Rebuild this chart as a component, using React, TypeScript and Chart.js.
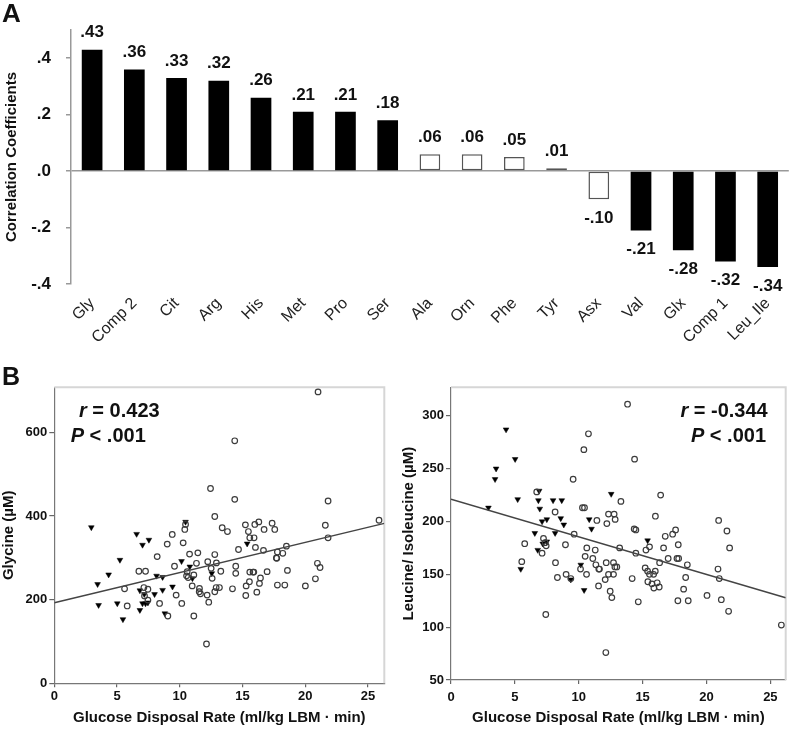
import React, { useEffect, useRef } from "react";
import { Chart, registerables } from "chart.js";

Chart.register(...registerables);

const FONT = "'Liberation Sans', Arial, Helvetica, sans-serif";

// ---------- Panel A: correlation coefficients ----------
const aminoLabels = ["Gly", "Comp 2", "Cit", "Arg", "His", "Met", "Pro", "Ser", "Ala", "Orn", "Phe", "Tyr", "Asx", "Val", "Glx", "Comp 1", "Leu_Ile"];
const correlationValues = [0.43, 0.36, 0.33, 0.32, 0.26, 0.21, 0.21, 0.18, 0.06, 0.06, 0.05, 0.01, -0.10, -0.21, -0.28, -0.32, -0.34];
const correlationText = [".43", ".36", ".33", ".32", ".26", ".21", ".21", ".18", ".06", ".06", ".05", ".01", "-.10", "-.21", "-.28", "-.32", "-.34"];
const significantFlags = [true, true, true, true, true, true, true, true, false, false, false, false, false, true, true, true, true];
const corrTicks = [-0.4, -0.2, 0, 0.2, 0.4];
const corrTickText = ["-.4", "-.2", ".0", ".2", ".4"];

// ---------- Panel B left: glycine ----------
const glycineCircles: [number, number][] = [
  [21.02, 697], [14.38, 580], [12.45, 466], [14.38, 440], [21.82, 436], [25.88, 390], [12.13, 94],
  [12.79, 399], [13.38, 372], [10.46, 380], [10.4, 368], [9.4, 356], [9.0, 333], [10.27, 336],
  [8.2, 303], [10.78, 309], [11.44, 312], [12.79, 308], [6.74, 268], [7.27, 268], [9.58, 280],
  [11.33, 287], [12.23, 291], [12.92, 288], [13.27, 268], [10.59, 267], [10.54, 257], [10.67, 253],
  [11.12, 259], [12.5, 275], [12.58, 251], [5.6, 226], [7.14, 229], [7.46, 225], [7.19, 209],
  [7.46, 199], [5.81, 185], [8.39, 191], [9.71, 211], [10.16, 191], [10.99, 233], [11.57, 227],
  [11.55, 219], [11.65, 214], [12.18, 211], [12.31, 194], [12.9, 229], [13.16, 229], [12.79, 219],
  [11.12, 161], [9.05, 161], [13.8, 363], [15.23, 379], [15.98, 380], [16.3, 386], [17.36, 383],
  [17.57, 368], [16.72, 368], [15.47, 363], [15.58, 348], [15.92, 348], [21.6, 378], [21.82, 348],
  [16.03, 325], [16.67, 318], [14.68, 320], [18.5, 328], [17.78, 314], [18.21, 311], [17.73, 299],
  [17.7, 300], [14.46, 280], [14.46, 263], [15.58, 266], [15.84, 266], [15.9, 266], [16.96, 267],
  [18.58, 270], [20.97, 287], [21.18, 277], [16.43, 252], [16.35, 239], [15.55, 243], [15.29, 233],
  [15.26, 210], [16.14, 218], [17.78, 235], [18.37, 235], [20.01, 233], [20.81, 250], [14.2, 226],
];
const glycineTriangles: [number, number][] = [
  [2.95, 373], [3.45, 237], [3.53, 187], [4.33, 260], [5.02, 191], [5.23, 295], [5.47, 153],
  [6.56, 357], [6.82, 175], [6.82, 222], [7.03, 331], [7.17, 213], [7.03, 191], [7.27, 191],
  [7.46, 193], [7.54, 343], [7.99, 213], [8.15, 257], [8.63, 254], [8.63, 223], [8.81, 167],
  [9.42, 231], [10.14, 292], [10.46, 386], [10.8, 279], [11.01, 251], [12.55, 263], [15.37, 334],
];
const glycineFitX = [0, 26.3];
const glycineFitY = [192.7, 382.5];
const glycineXTicks = [0, 5, 10, 15, 20, 25];
const glycineYTicks = [0, 200, 400, 600];

// ---------- Panel B right: leucine / isoleucine ----------
const leucineCircles: [number, number][] = [
  [13.82, 311], [10.76, 283], [10.4, 268], [14.37, 259], [9.56, 240], [6.71, 228], [13.3, 219],
  [16.41, 225], [16.0, 205], [20.95, 201], [21.6, 191], [21.81, 175], [20.9, 155], [21.0, 146],
  [21.16, 126], [21.73, 115], [20.04, 130], [25.86, 102], [12.12, 76], [7.42, 112], [8.15, 209],
  [10.29, 213], [10.45, 213], [12.33, 207], [12.77, 207], [12.85, 202], [12.2, 198], [11.42, 201],
  [9.64, 188], [7.24, 184], [7.37, 180], [7.13, 170], [7.45, 177], [5.77, 179], [8.96, 178],
  [10.63, 175], [11.29, 173], [10.5, 167], [11.1, 165], [11.34, 159], [10.14, 155], [10.61, 150],
  [11.57, 155], [11.62, 155], [12.15, 161], [12.72, 161], [12.83, 157], [12.98, 157], [12.33, 150],
  [12.72, 150], [12.07, 145], [11.55, 139], [12.46, 134], [12.59, 128], [8.18, 161], [5.54, 162],
  [8.33, 147], [9.01, 150], [13.2, 175], [14.34, 193], [14.47, 192], [17.58, 192], [17.35, 188],
  [16.77, 186], [17.79, 178], [16.64, 175], [15.54, 176], [15.26, 173], [14.47, 170], [16.33, 161],
  [17.0, 165], [17.69, 165], [17.82, 165], [18.5, 159], [15.2, 156], [15.39, 153], [15.54, 150],
  [15.86, 150], [15.99, 153], [15.41, 143], [15.73, 141], [16.14, 142], [16.3, 138], [15.88, 137],
  [14.18, 146], [18.37, 147], [18.21, 136], [17.76, 125], [18.57, 125], [14.66, 124], [9.38, 146],
];
const leucineTriangles: [number, number][] = [
  [2.93, 213], [3.45, 240], [3.53, 250], [4.31, 287], [5.02, 259], [5.22, 221], [5.46, 155],
  [6.56, 189], [6.79, 173], [6.9, 229], [6.84, 220], [6.95, 212], [7.13, 200], [7.5, 202],
  [7.18, 179], [7.5, 181], [7.99, 220], [8.15, 189], [8.59, 203], [8.67, 220], [8.83, 197],
  [9.38, 145], [10.16, 159], [10.42, 135], [10.82, 202], [11.0, 193], [12.54, 226], [15.39, 182],
];
const leucineFitX = [0, 26.2];
const leucineFitY = [221.1, 127.9];
const leucineXTicks = [0, 5, 10, 15, 20, 25];
const leucineYTicks = [50, 100, 150, 200, 250, 300];

// ---------- helpers ----------
type Part = [string, boolean];
function drawRich(ctx: CanvasRenderingContext2D, parts: Part[], x: number, y: number, align: "left" | "right", size: number) {
  const fonts = parts.map(([, it]) => `${it ? "italic " : ""}bold ${size}px ${FONT}`);
  const widths = parts.map(([t], i) => {
    ctx.font = fonts[i];
    return ctx.measureText(t).width;
  });
  const total = widths.reduce((a, b) => a + b, 0);
  let cx = align === "left" ? x : x - total;
  ctx.textAlign = "left";
  ctx.textBaseline = "middle";
  parts.forEach(([t], i) => {
    ctx.font = fonts[i];
    ctx.fillText(t, cx, y);
    cx += widths[i];
  });
}

function barConfig(): any {
  const labelPlugin = {
    id: "barValueLabels",
    afterDatasetsDraw(chart: any) {
      const ctx = chart.ctx as CanvasRenderingContext2D;
      const meta = chart.getDatasetMeta(0);
      ctx.save();
      ctx.fillStyle = "#111";
      ctx.font = `bold 17px ${FONT}`;
      ctx.textAlign = "center";
      ctx.textBaseline = "middle";
      meta.data.forEach((bar: any, i: number) => {
        const v = correlationValues[i];
        const ty = v >= 0 ? bar.y - 17 : bar.y + 19;
        ctx.fillText(correlationText[i], bar.x, ty);
      });
      ctx.font = `bold 26px ${FONT}`;
      ctx.textAlign = "left";
      ctx.textBaseline = "alphabetic";
      ctx.fillText("A", 2, 22);
      ctx.restore();
    },
  };
  return {
    type: "bar",
    data: {
      labels: aminoLabels,
      datasets: [
        {
          data: correlationValues,
          backgroundColor: significantFlags.map((s) => (s ? "#000" : "#fff")),
          borderColor: significantFlags.map((s) => (s ? "#000" : "#555")),
          borderWidth: significantFlags.map((s) => (s ? 0 : 1.5)),
          borderSkipped: false,
          categoryPercentage: 1,
          barPercentage: 0.49,
        },
      ],
    },
    options: {
      animation: false,
      responsive: false,
      maintainAspectRatio: false,
      layout: { padding: { left: 0, right: 2.2, top: 30, bottom: 0 } },
      plugins: { legend: { display: false }, tooltip: { enabled: false } },
      scales: {
        x: {
          grid: { display: false },
          border: { display: false },
          ticks: {
            autoSkip: false,
            minRotation: 45,
            maxRotation: 45,
            padding: 2,
            color: "#222",
            font: { family: FONT, size: 16 },
          },
          afterFit: (s: any) => {
            s.height = 76;
          },
        },
        y: {
          min: -0.4,
          max: 0.5,
          afterBuildTicks: (s: any) => {
            s.ticks = corrTicks.map((v) => ({ value: v }));
          },
          ticks: {
            padding: 15,
            color: "#111",
            font: { family: FONT, size: 17, weight: "bold" },
            callback: (v: number) => corrTickText[corrTicks.findIndex((t) => Math.abs(t - v) < 1e-6)],
          },
          grid: {
            drawOnChartArea: true,
            color: (c: any) => (c.tick && Math.abs(c.tick.value) < 1e-6 ? "#999" : "rgba(0,0,0,0)"),
            lineWidth: 1.5,
            tickColor: "#999",
            tickLength: 5,
          },
          border: { display: true, color: "#999", width: 1.5 },
          title: {
            display: true,
            text: "Correlation Coefficients",
            color: "#111",
            font: { family: FONT, size: 15, weight: "bold" },
            padding: { top: 3, bottom: 0 },
          },
          afterFit: (s: any) => {
            s.width = 71;
          },
        },
      },
    },
    plugins: [labelPlugin],
  };
}

interface ScatterSpec {
  circles: [number, number][];
  triangles: [number, number][];
  fitX: number[];
  fitY: number[];
  xMax: number;
  yMin: number;
  yMax: number;
  xTicks: number[];
  yTicks: number[];
  yTitle: string;
  padding: { left: number; right: number; top: number; bottom: number };
  yAxisWidth: number;
  xAxisHeight: number;
  xTickPad: number;
  yTitlePad: number;
  rText: string;
  annotAlign: "left" | "right";
  rPos: [number, number];
  pPos: [number, number];
  letter?: string;
}

function scatterConfig(spec: ScatterSpec): any {
  const overlay = {
    id: "frameAndNotes",
    beforeDatasetsDraw(chart: any) {
      const { left, right, top, bottom } = chart.chartArea;
      const ctx = chart.ctx as CanvasRenderingContext2D;
      ctx.save();
      ctx.strokeStyle = "#d6d6d6";
      ctx.lineWidth = 2;
      ctx.beginPath();
      ctx.moveTo(left, top);
      ctx.lineTo(right, top);
      ctx.lineTo(right, bottom);
      ctx.stroke();
      ctx.restore();
    },
    afterDraw(chart: any) {
      const ctx = chart.ctx as CanvasRenderingContext2D;
      ctx.save();
      ctx.fillStyle = "#111";
      drawRich(ctx, [["r", true], [" = " + spec.rText, false]], spec.rPos[0], spec.rPos[1], spec.annotAlign, 20);
      drawRich(ctx, [["P", true], [" < .001", false]], spec.pPos[0], spec.pPos[1], spec.annotAlign, 20);
      if (spec.letter) {
        ctx.font = `bold 25px ${FONT}`;
        ctx.textAlign = "left";
        ctx.textBaseline = "alphabetic";
        ctx.fillText(spec.letter, 2, 25);
      }
      ctx.restore();
    },
  };
  const tickFont = { family: FONT, size: 13, weight: "bold" };
  const titleFont = { family: FONT, size: 15, weight: "bold" };
  return {
    type: "scatter",
    data: {
      datasets: [
        {
          data: spec.fitX.map((x, i) => ({ x, y: spec.fitY[i] })),
          showLine: true,
          borderColor: "#444",
          borderWidth: 1.5,
          pointRadius: 0,
        },
        {
          data: spec.circles.map(([x, y]) => ({ x, y })),
          pointStyle: "circle",
          pointRadius: 2.8,
          pointBorderWidth: 1.2,
          pointBorderColor: "#3c3c3c",
          pointBackgroundColor: "rgba(255,255,255,0)",
        },
        {
          data: spec.triangles.map(([x, y]) => ({ x, y })),
          pointStyle: "triangle",
          rotation: 180,
          pointRadius: 3.3,
          pointBorderWidth: 0.5,
          pointBorderColor: "#000",
          pointBackgroundColor: "#000",
        },
      ],
    },
    options: {
      animation: false,
      responsive: false,
      maintainAspectRatio: false,
      layout: { padding: spec.padding },
      plugins: { legend: { display: false }, tooltip: { enabled: false } },
      scales: {
        x: {
          type: "linear",
          min: 0,
          max: spec.xMax,
          afterBuildTicks: (s: any) => {
            s.ticks = spec.xTicks.map((v) => ({ value: v }));
          },
          ticks: { color: "#111", font: tickFont, padding: spec.xTickPad },
          grid: { drawOnChartArea: false, tickLength: 4, tickColor: "#666", lineWidth: 1.2 },
          border: { display: true, color: "#777", width: 1.2 },
          title: {
            display: true,
            text: "Glucose Disposal Rate (ml/kg LBM \u00b7 min)",
            color: "#111",
            font: titleFont,
            padding: { top: 0, bottom: 5 },
          },
          afterFit: (s: any) => {
            s.height = spec.xAxisHeight;
          },
        },
        y: {
          type: "linear",
          min: spec.yMin,
          max: spec.yMax,
          afterBuildTicks: (s: any) => {
            s.ticks = spec.yTicks.map((v) => ({ value: v }));
          },
          ticks: { color: "#111", font: tickFont, padding: 2 },
          grid: { drawOnChartArea: false, tickLength: 5, tickColor: "#666", lineWidth: 1.2 },
          border: { display: true, color: "#777", width: 1.2 },
          title: {
            display: true,
            text: spec.yTitle,
            color: "#111",
            font: titleFont,
            padding: { top: spec.yTitlePad, bottom: 0 },
          },
          afterFit: (s: any) => {
            s.width = spec.yAxisWidth;
          },
        },
      },
    },
    plugins: [overlay],
  };
}

export default function App() {
  const barRef = useRef<HTMLCanvasElement>(null);
  const glyRef = useRef<HTMLCanvasElement>(null);
  const leuRef = useRef<HTMLCanvasElement>(null);

  useEffect(() => {
    const charts: Chart[] = [];
    charts.push(new Chart(barRef.current!, barConfig()));
    charts.push(
      new Chart(
        glyRef.current!,
        scatterConfig({
          circles: glycineCircles,
          triangles: glycineTriangles,
          fitX: glycineFitX,
          fitY: glycineFitY,
          xMax: 26.3,
          yMin: 0,
          yMax: 708,
          xTicks: glycineXTicks,
          yTicks: glycineYTicks,
          yTitle: "Glycine (\u00b5M)",
          padding: { left: 0, right: 10.7, top: 27.3, bottom: 0 },
          yAxisWidth: 54.3,
          xAxisHeight: 48.7,
          xTickPad: 1,
          yTitlePad: 0,
          rText: "0.423",
          annotAlign: "left",
          rPos: [79, 51.7],
          pPos: [70.7, 76.7],
          letter: "B",
        })
      )
    );
    charts.push(
      new Chart(
        leuRef.current!,
        scatterConfig({
          circles: leucineCircles,
          triangles: leucineTriangles,
          fitX: leucineFitX,
          fitY: leucineFitY,
          xMax: 26.2,
          yMin: 50,
          yMax: 327,
          xTicks: leucineXTicks,
          yTicks: leucineYTicks,
          yTitle: "Leucine/ Isoleucine (\u00b5M)",
          padding: { left: 0, right: 5.3, top: 27.3, bottom: 0 },
          yAxisWidth: 56,
          xAxisHeight: 52,
          xTickPad: 6,
          yTitlePad: 5,
          rText: "-0.344",
          annotAlign: "right",
          rPos: [372.7, 51.7],
          pPos: [371, 76.7],
        })
      )
    );
    return () => charts.forEach((c) => c.destroy());
  }, []);

  return (
    <div style={{ position: "absolute", left: 0, top: 0, width: 791, height: 732, background: "#fff", overflow: "hidden" }}>
      <canvas ref={barRef} width={791} height={360} style={{ position: "absolute", left: 0, top: 0, width: 791, height: 360 }} />
      <canvas ref={glyRef} width={395} height={372} style={{ position: "absolute", left: 0, top: 360, width: 395, height: 372 }} />
      <canvas ref={leuRef} width={396} height={372} style={{ position: "absolute", left: 395, top: 360, width: 396, height: 372 }} />
    </div>
  );
}
